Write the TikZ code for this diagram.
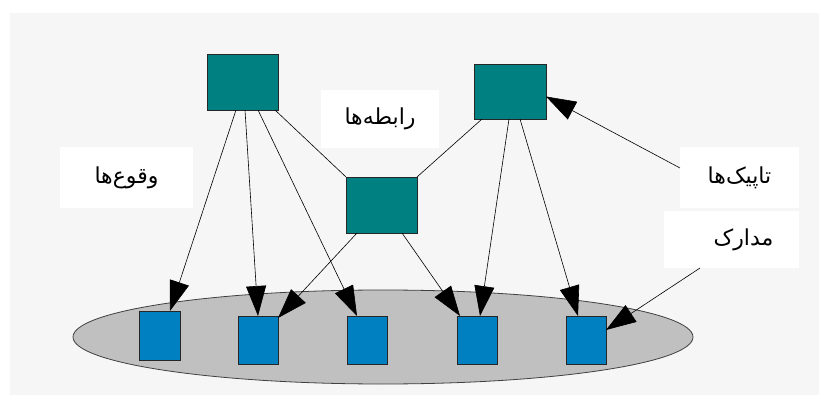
\documentclass[tikz,border=0pt]{standalone}
\usepackage{fontspec}
\usetikzlibrary{arrows.meta}
\newfontfamily\farsifont[Script=Arabic]{DejaVu Sans}
\TeXXeTstate=1
\definecolor{topicteal}{RGB}{0,128,128}
\definecolor{docblue}{RGB}{0,128,192}
\definecolor{scopegray}{RGB}{192,192,192}
\definecolor{backgray}{RGB}{246,246,246}

\begin{document}
\begin{tikzpicture}[x=1pt, y=-1pt,
  topic/.style={draw=black!85, fill=topicteal, line width=0.9pt, inner sep=0pt, outer sep=0pt, minimum width=71pt, minimum height=56pt},
  doc/.style={draw=black!85, fill=docblue, line width=0.9pt, inner sep=0pt, outer sep=0pt, minimum width=40pt, minimum height=48pt},
  tag/.style={fill=white, inner sep=0pt, outer sep=0pt, font=\farsifont\fontsize{22}{24}\selectfont},
  link/.style={draw=black, line width=0.6pt},
  occ/.style={link, -{Triangle[length=30pt, width=20pt]}},
]
  \useasboundingbox (0,0) rectangle (819,395);
  \fill[white] (0,0) rectangle (819,395);
  \fill[backgray] (10,13) rectangle (819,395);
  \draw[draw=black!75, fill=scopegray, line width=0.8pt] (383,337) ellipse [x radius=310, y radius=47];

  \node[tag, minimum width=118pt, minimum height=58pt] (assoc) at (380,119) {\beginR رابطه‌ها\endR};
  \node[tag, minimum width=133pt, minimum height=61pt] (occlab) at (126.5,177.5) {\beginR وقوع‌ها\endR};
  \node[tag, minimum width=119pt, minimum height=61pt] (topiclab) at (739.5,177.5) {\beginR تاپیک‌ها\endR};
  \node[tag, minimum width=135pt, minimum height=57pt] (doclab) at (731.5,239.5) {\beginR مدارک\hspace*{24pt}\endR};

  \node[topic] (tl) at (242.5,82) {};
  \node[topic, minimum width=72pt, minimum height=55pt] (tr) at (510,91.5) {};
  \node[topic] (mid) at (381.5,205) {};

  \node[doc, minimum width=41pt, minimum height=49pt] (d1) at (159.5,335.5) {};
  \node[doc] (d2) at (258,340) {};
  \node[doc] (d3) at (367.5,340) {};
  \node[doc] (d4) at (477,340) {};
  \node[doc] (d5) at (586,340) {};

  \draw[link] ([xshift=-3pt]tl.south east) -- (mid.north west);
  \draw[link] ([xshift=8pt]tr.south west) -- (mid.north east);

  \draw[occ] ([xshift=-6.5pt]tl.south) -- ([xshift=10.5pt]d1.north);
  \draw[occ] ([xshift=2.5pt]tl.south) -- (d2.north);
  \draw[occ] ([xshift=15.5pt]tl.south) -- ([xshift=-10.5pt]d3.north);
  \draw[occ] ([xshift=-1pt]tr.south) -- ([xshift=3pt]d4.north);
  \draw[occ] ([xshift=10pt]tr.south) -- ([xshift=-8pt]d5.north);
  \draw[occ] ([xshift=-24.5pt]mid.south) -- ([yshift=-2pt]d2.north east);
  \draw[occ] ([xshift=20.5pt]mid.south) -- ([xshift=3pt]d4.north west);

  \draw[occ] ([yshift=9.5pt]topiclab.west) -- ([yshift=-5pt]tr.east);
  \draw[occ] ([xshift=-31.5pt]doclab.south) -- ([yshift=10pt]d5.east);
\end{tikzpicture}
\end{document}
